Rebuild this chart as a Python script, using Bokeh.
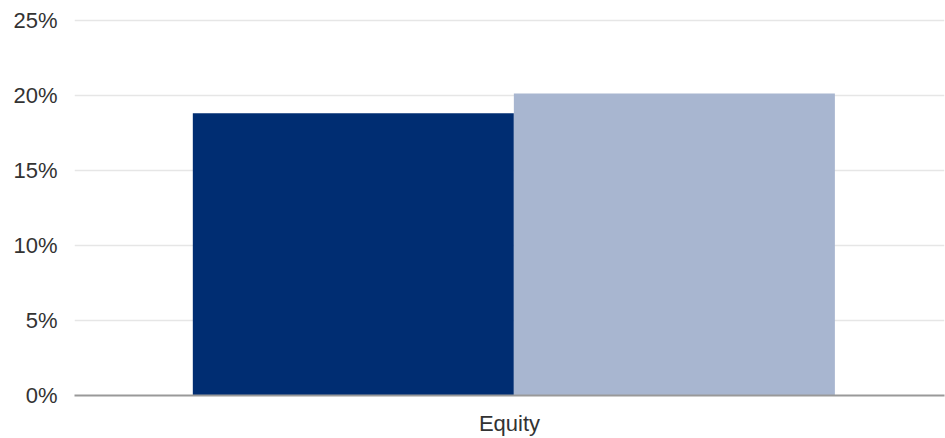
from bokeh.plotting import figure
from bokeh.models import ColumnDataSource, FactorRange, Range1d, FixedTicker, PrintfTickFormatter
from bokeh.transform import dodge
from bokeh.embed import file_html
from bokeh.resources import INLINE

categories = ["Equity"]
series_1 = [18.8]
series_2 = [20.1]
y_ticks = [0, 5, 10, 15, 20, 25]

source = ColumnDataSource(data=dict(cat=categories, s1=series_1, s2=series_2))

p = figure(width=945, height=438, x_range=FactorRange(*categories), y_range=Range1d(0, 25.1),
           output_backend="svg", toolbar_location=None,
           min_border_left=74, min_border_right=1, min_border_top=18, min_border_bottom=42)
p.outline_line_color = None
p.background_fill_color = "white"
p.border_fill_color = "white"

p.vbar(x=dodge("cat", -0.1795, range=p.x_range), top="s1", width=0.369, source=source,
       fill_color="#002D72", line_color=None)
p.vbar(x=dodge("cat", 0.1895, range=p.x_range), top="s2", width=0.369, source=source,
       fill_color="#A8B6D0", line_color=None)

p.xgrid.grid_line_color = None
p.ygrid.grid_line_color = "#E6E6E6"
p.ygrid.grid_line_width = 1.5
p.ygrid.ticker = FixedTicker(ticks=y_ticks)

p.yaxis.ticker = FixedTicker(ticks=y_ticks)
p.yaxis.formatter = PrintfTickFormatter(format="%d%%")
p.yaxis.axis_line_color = None
p.yaxis.major_tick_line_color = None
p.yaxis.major_tick_out = 0
p.yaxis.minor_tick_line_color = None
p.yaxis.minor_tick_out = 0
p.yaxis.major_label_standoff = 17
p.yaxis.major_label_text_font = "Liberation Sans"
p.yaxis.major_label_text_font_size = "22px"
p.yaxis.major_label_text_color = "#333333"

p.xaxis.axis_line_color = "#999999"
p.xaxis.axis_line_width = 2
p.xaxis.major_tick_line_color = None
p.xaxis.major_tick_out = 0
p.xaxis.minor_tick_line_color = None
p.xaxis.minor_tick_out = 0
p.xaxis.major_label_standoff = 15
p.xaxis.major_label_text_font = "Liberation Sans"
p.xaxis.major_label_text_font_size = "22px"
p.xaxis.major_label_text_color = "#333333"

open("out.html", "w").write(file_html(p, INLINE))
